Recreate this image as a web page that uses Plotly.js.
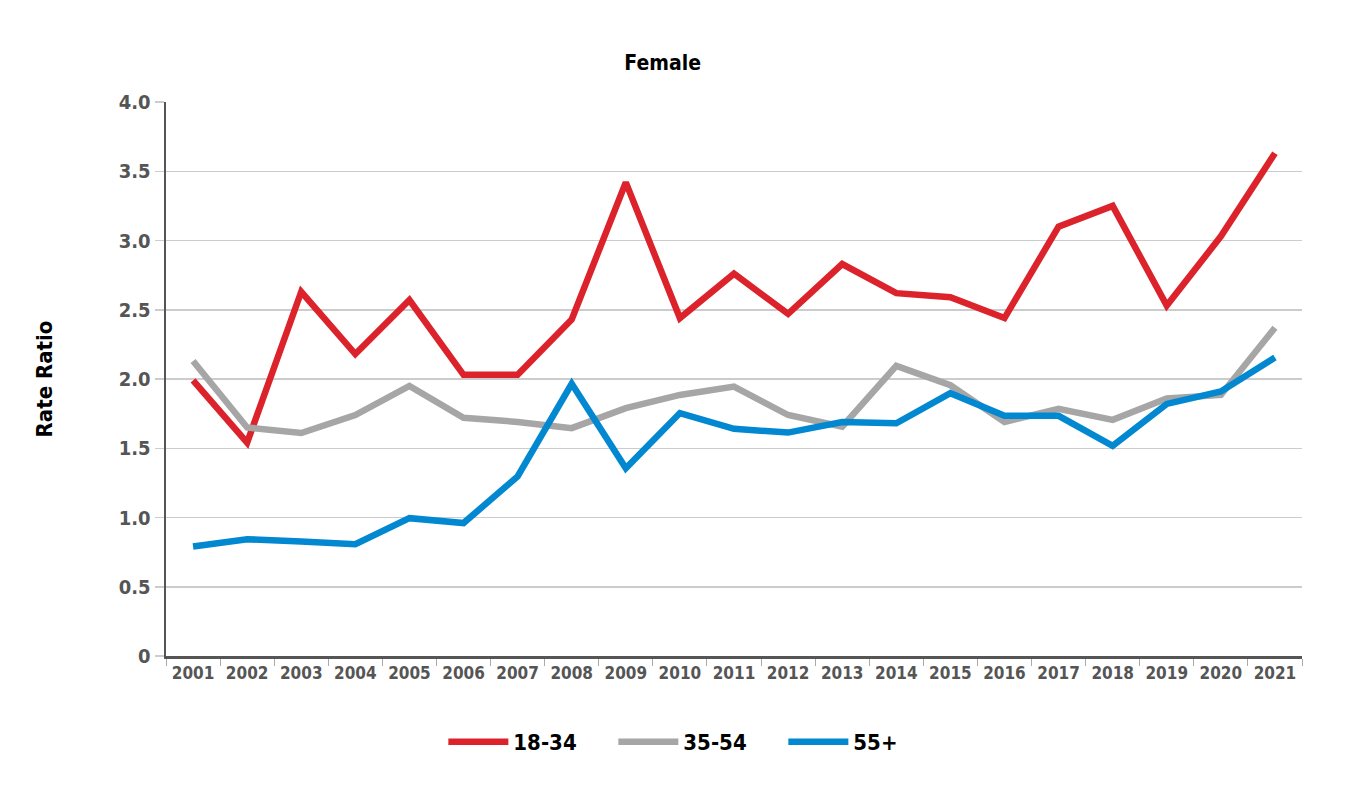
<!DOCTYPE html>
<html>
<head>
<meta charset="utf-8">
<script src="https://cdn.plot.ly/plotly-3.0.1.min.js"></script>
<style>html,body{margin:0;padding:0;background:#fff;}#chart{width:1372px;height:802px;}</style>
</head>
<body>
<div id="chart"></div>
<script>
const years = ["2001","2002","2003","2004","2005","2006","2007","2008","2009","2010","2011","2012","2013","2014","2015","2016","2017","2018","2019","2020","2021"];
const age18_34 = [1.99,1.54,2.63,2.18,2.57,2.03,2.03,2.43,3.42,2.44,2.76,2.47,2.83,2.62,2.59,2.44,3.10,3.25,2.53,3.03,3.63];
const age35_54 = [2.13,1.65,1.61,1.74,1.95,1.72,1.69,1.645,1.79,1.885,1.945,1.74,1.655,2.095,1.955,1.69,1.785,1.705,1.86,1.885,2.37];
const age55plus = [0.79,0.843,0.826,0.807,0.995,0.96,1.296,1.965,1.355,1.754,1.64,1.613,1.69,1.68,1.898,1.734,1.734,1.517,1.82,1.91,2.155];
const yTickVals = [0,0.5,1,1.5,2,2.5,3,3.5,4];
const yTickText = ["0","0.5","1.0","1.5","2.0","2.5","3.0","3.5","4.0"];
const seriesNames = ["18-34","35-54","55+"];

const fontFam = '"DejaVu Sans Condensed", "Liberation Sans Narrow", sans-serif';
const colors = ["#dc222a","#a6a6a6","#0288d1"];
const data = [age18_34, age35_54, age55plus].map((v,i)=>({
  x: years, y: v, type: "scatter", mode: "lines", name: seriesNames[i],
  line: {color: colors[i], width: 6.5, shape: "linear"}
}));

const layout = {
  width: 1372, height: 802,
  margin: {l: 166, r: 70, t: 102, b: 146},
  paper_bgcolor: "#fff", plot_bgcolor: "#fff",
  font: {family: fontFam, size: 17, color: "#555", stretch: "condensed"},
  title: {text: "<b>Female</b>", x: 0.483, xref: "container", xanchor: "center", y: 0.922, yref: "container", yanchor: "middle", font: {family: fontFam, size: 21, color: "#000", stretch: "condensed"}},
  xaxis: {
    type: "category", range: [-0.5, 20.5],
    showline: true, linecolor: "#555", linewidth: 2.5,
    ticks: "outside", tickson: "boundaries", ticklen: 7, tickcolor: "#aaa", tickwidth: 1,
    showgrid: false,
    tickfont: {family: fontFam, size: 17, color: "#555", weight: "bold", stretch: "condensed"}
  },
  yaxis: {
    range: [0, 4], tickvals: yTickVals, ticktext: yTickText,
    showline: true, linecolor: "#555", linewidth: 2.5,
    ticks: "outside", ticklen: 9, tickcolor: "#ccc", tickwidth: 1.5,
    showgrid: true, gridcolor: "#cccccc", gridwidth: 1.5, zeroline: false,
    tickfont: {family: fontFam, size: 20, color: "#555", weight: "bold", stretch: "condensed"},
    title: {text: "<b>Rate Ratio</b>", standoff: 60, font: {family: fontFam, size: 22, color: "#000", stretch: "condensed"}}
  },
  showlegend: true,
  legend: {
    orientation: "h", xref: "container", yref: "container", x: 0.509, xanchor: "center", y: 0.075, yanchor: "middle",
    font: {family: fontFam, size: 22, color: "#000", weight: "bold", stretch: "condensed"},
    itemwidth: 60, tracegroupgap: 0, entrywidth: 95
  }
};
Plotly.newPlot("chart", data, layout, {displayModeBar: false, staticPlot: true});
</script>
</body>
</html>
